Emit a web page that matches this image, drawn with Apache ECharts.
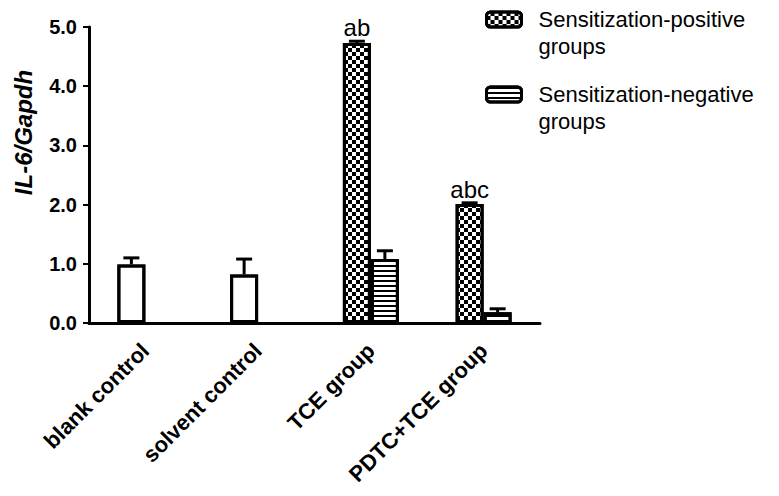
<!DOCTYPE html>
<html><head><meta charset="utf-8">
<script src="https://cdn.jsdelivr.net/npm/echarts@6/dist/echarts.min.js"></script>
<style>html,body{margin:0;padding:0;background:#fff}#c{width:779px;height:496px}</style>
</head><body><div id="c"></div>
<script>
const categories = ['blank control', 'solvent control', 'TCE group', 'PDTC+TCE group'];
const positiveName = 'Sensitization-positive groups';
const negativeName = 'Sensitization-negative groups';
const positiveValues = [0.99, 0.82, 4.73, 2.01];
const positiveErrors = [0.11, 0.26, 0.03, 0.02];
const negativeValues = [null, null, 1.08, 0.18];
const negativeErrors = [null, null, 0.14, 0.06];
const significance = ['', '', 'ab', 'abc'];
const plainControl = [true, true, false, false];
const yMin = 0, yMax = 5, yStep = 1;
const yAxisName = 'IL-6/Gapdh';

const FONT = 'Liberation Sans, Arial, Helvetica, sans-serif';
const checker = { symbol: 'rect', symbolSize: 1, color: '#000', dashArrayX: [[4, 4], [0, 4, 4, 0]], dashArrayY: [4, 0] };
const stripes = { symbol: 'rect', symbolSize: 1, color: '#000', dashArrayX: [1, 0], dashArrayY: [2, 2.5] };

function errorSeries(values, errors, offset) {
  const data = [];
  values.forEach((v, i) => { if (v != null) data.push([i, v, v + errors[i]]); });
  return {
    type: 'custom', silent: true, z: 5,
    encode: { x: 0, y: [1, 2] },
    data: data,
    renderItem: function (params, api) {
      const p0 = api.coord([api.value(0), api.value(1)]);
      const p1 = api.coord([api.value(0), api.value(2)]);
      const x = p0[0] + offset;
      return {
        type: 'group', children: [
          { type: 'line', shape: { x1: x, y1: p0[1], x2: x, y2: p1[1] }, style: { stroke: '#000', lineWidth: 3 } },
          { type: 'line', shape: { x1: x - 8, y1: p1[1], x2: x + 8, y2: p1[1] }, style: { stroke: '#000', lineWidth: 3 } }
        ]
      };
    }
  };
}

const chart = echarts.init(document.getElementById('c'), null, { renderer: 'svg' });
chart.setOption({
  animation: false,
  backgroundColor: '#fff',
  grid: { left: 89, right: 239, top: 27, bottom: 173, containLabel: false },
  legend: {
    orient: 'vertical', left: 485, top: -21, padding: 0, itemGap: -6,
    itemWidth: 35, itemHeight: 15, icon: 'roundRect', selectedMode: false,
    data: [positiveName, negativeName],
    formatter: n => '\n' + n.replace(' groups', '\ngroups'),
    itemStyle: { borderColor: '#000', borderWidth: 3 },
    textStyle: { fontSize: 22, lineHeight: 27, color: '#000', fontFamily: FONT, padding: [0, 0, 0, 12] }
  },
  xAxis: {
    type: 'category', data: categories,
    axisLine: { lineStyle: { color: '#000', width: 3 } },
    axisTick: { alignWithLabel: true, length: 8, lineStyle: { color: '#000', width: 2 } },
    axisLabel: { rotate: 45, margin: 24, color: '#000', fontSize: 22, fontWeight: 'bold', fontFamily: FONT, interval: 0 }
  },
  yAxis: {
    type: 'value', min: yMin, max: yMax, interval: yStep,
    name: yAxisName, nameLocation: 'middle', nameRotate: 90, nameGap: 54,
    nameTextStyle: { fontSize: 24, fontWeight: 'bold', fontStyle: 'italic', color: '#000', fontFamily: FONT, padding: [0, 0, 0, 85] },
    axisLine: { show: true, lineStyle: { color: '#000', width: 3 } },
    axisTick: { show: true, length: 6, lineStyle: { color: '#000', width: 2 } },
    splitLine: { show: false },
    axisLabel: { margin: 12, color: '#000', fontSize: 20, fontWeight: 'bold', fontFamily: FONT, formatter: v => v.toFixed(1) }
  },
  series: [
    {
      name: positiveName, type: 'bar', barWidth: 28, barGap: '0%',
      data: positiveValues.map((v, i) => plainControl[i] ? { value: v, itemStyle: { decal: { symbol: 'none' } } } : v),
      itemStyle: { color: '#fff', borderColor: '#000', borderWidth: 3, decal: checker },
      label: { show: true, position: 'top', distance: 3, formatter: p => significance[p.dataIndex], fontSize: 24, color: '#000', fontFamily: FONT }
    },
    {
      name: negativeName, type: 'bar', barWidth: 28, barGap: '0%',
      data: negativeValues,
      itemStyle: { color: '#fff', borderColor: '#000', borderWidth: 3, decal: stripes }
    },
    errorSeries(positiveValues, positiveErrors, -14),
    errorSeries(negativeValues, negativeErrors, 14)
  ]
});
</script></body></html>
